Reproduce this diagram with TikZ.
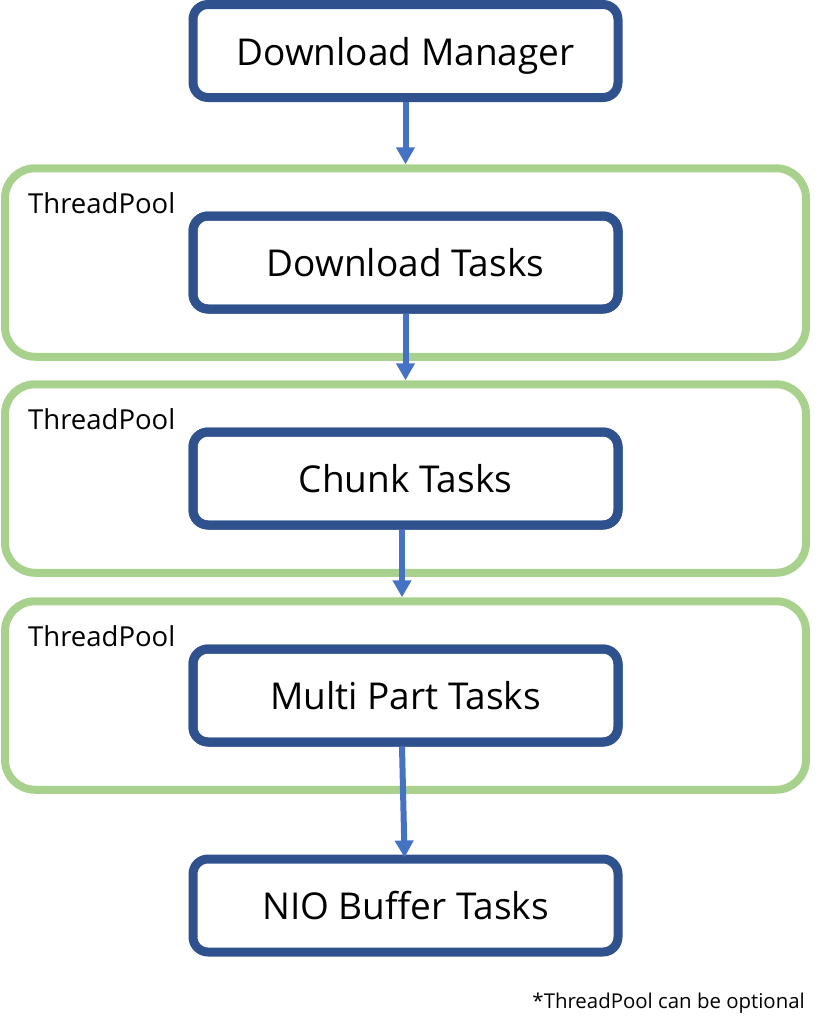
\documentclass[tikz,border=0pt]{standalone}
\usepackage{fontspec}
\setmainfont{Open Sans}
\usetikzlibrary{positioning, arrows.meta}

\definecolor{taskblue}{HTML}{2F528F}
\definecolor{poolgreen}{HTML}{A9D18E}
\definecolor{arrowblue}{HTML}{4472C4}

\begin{document}
\begin{tikzpicture}[x=1pt, y=-1pt, node distance=216pt, on grid,
    task/.style={draw=taskblue, line width=9pt, rounded corners=15pt,
        minimum width=425pt, minimum height=93pt,
        font=\fontsize{37}{40}\selectfont},
    pool/.style={draw=poolgreen, line width=8pt, rounded corners=30pt,
        minimum width=801pt, minimum height=188.5pt},
    poolname/.style={anchor=base west, inner sep=0pt,
        font=\fontsize{27.5}{30}\selectfont},
    flow/.style={arrowblue, line width=6pt, -{Triangle[width=18pt,length=17pt]}}]
        \useasboundingbox (0,0) rectangle (824,1026);
        % the thread pools go in first, so the tasks sit on top
        \node[task, text depth=0pt] (dm) at (405.5,51) {Download Manager};
        \node[task, below=211.5pt of dm] (dt) {};
        \node[task, below=of dt] (ct) {};
        \node[task, below=217pt of ct] (mp) {};
        \node[task, below=210pt of mp] (nio) {NIO Buffer Tasks};
        \node[pool] (pool1) at (dt) {};
        \node[pool] (pool2) at (ct) {};
        \node[pool] (pool3) at (mp) {};
        \node[task] at (dt) {Download Tasks};
        \node[task] at (ct) {Chunk Tasks};
        \node[task] at (mp) {Multi Part Tasks};
        \node[poolname] (tp1) at ([xshift=27pt,yshift=-49pt]pool1.north west) {ThreadPool};
        \node[poolname] (tp2) at ([xshift=27pt,yshift=-49pt]pool2.north west) {ThreadPool};
        \node[poolname] (tp3) at ([xshift=27pt,yshift=-49pt]pool3.north west) {ThreadPool};
        \node[anchor=base east, inner sep=0pt, font=\fontsize{20.4}{23}\selectfont]
                (note) at (805,1008) {*ThreadPool can be optional};
        \draw[flow] (dm.south) -- (dm.south |- pool1.north);
        \draw[flow] (dt.south) -- (dt.south |- pool2.north);
        \draw[flow] ([xshift=-3.5pt]ct.south) -- ([xshift=-3.5pt]ct.south |- pool3.north);
        \draw[flow, shorten >=-3pt] ([xshift=-3.5pt]mp.south) -- ([xshift=-1pt]nio.north);
\end{tikzpicture}
\end{document}
